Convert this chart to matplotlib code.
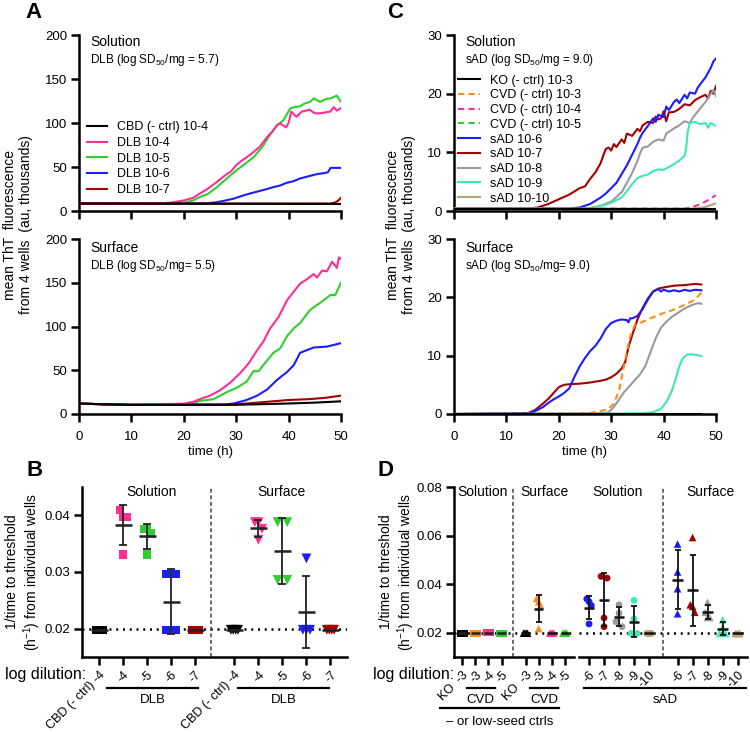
import numpy as np
import matplotlib
matplotlib.use('Agg')
import matplotlib.pyplot as plt
from matplotlib.lines import Line2D

plt.rcParams['font.family'] = ['Liberation Sans', 'DejaVu Sans']
plt.rcParams['mathtext.fontset'] = 'custom'
plt.rcParams['mathtext.rm'] = 'Liberation Sans'
plt.rcParams['mathtext.default'] = 'regular'

# ======================= DATA =======================
# ---- Panel A, Solution (au, thousands) ----
a_sol_cbd_t = [0, 50]
a_sol_cbd = [8.5, 8.0]
a_sol_dlb4_t = [0, 16, 18, 20, 21.8, 23.1, 24.5, 26.3, 28.2, 29, 30, 31, 32, 33.3, 34.5, 35.9, 37, 37.8, 38.4,
                39.5, 40, 40.5, 41.5, 42.5, 44, 45, 46, 47, 48, 48.6, 49.2, 50]
a_sol_dlb4 = [8.5, 8.5, 10, 12, 15, 20, 25, 33, 42, 45, 52, 57, 61, 67, 73, 84, 91, 97.5, 99.5,
              95, 100, 113, 107, 113, 115, 111, 111, 112, 113, 118, 114, 117]
a_sol_dlb5_t = [0, 18, 20, 21.8, 23.1, 24.5, 26.3, 28.2, 30, 32, 33.3, 35, 36.5, 37.8, 39, 40.3, 41, 42.2,
                43, 44.1, 44.8, 46, 47, 48, 49.2, 50]
a_sol_dlb5 = [8.5, 8.5, 9.5, 12, 16, 19, 27, 37, 46, 55, 61, 73, 87, 97.5, 103, 116.5, 118, 119,
              122, 124, 128, 124, 127, 128, 131, 124]
a_sol_dlb6_t = [0, 24, 26.3, 28, 29.5, 31, 32.7, 34, 35.9, 37, 38.4, 39.6, 41, 42.2, 43.5, 44.8, 45.5,
                46.7, 47.5, 48, 50]
a_sol_dlb6 = [8.5, 8.5, 10, 12, 14, 17, 20, 22, 25, 27, 29, 32, 34, 37, 39, 41, 42, 43, 44, 49, 49]
a_sol_dlb7_t = [0, 48, 49, 49.5, 50]
a_sol_dlb7 = [8.5, 8.5, 10, 12, 15]

# ---- Panel A, Surface ----
a_surf_cbd_t = [0, 5, 10, 30, 40, 45, 50]
a_surf_cbd = [12, 11, 10.5, 10.5, 12, 13, 14.5]
a_surf_dlb4_t = [0, 5, 10, 20, 21.8, 23.1, 25, 26.9, 28.9, 30.8, 32.4, 34, 35.2, 36.5, 38.1, 39.7, 41, 42.2,
                 43.5, 44.8, 45.4, 46.4, 47.3, 48.3, 49.2, 49.6, 50]
a_surf_dlb4 = [12, 11, 10.5, 11.8, 14, 17, 21, 27, 36, 47, 58, 73, 83, 98, 111, 130, 140, 149,
               154, 160, 156, 164, 163, 174, 167, 179, 177]
a_surf_dlb5_t = [0, 5, 10, 20, 21.8, 23.1, 25.7, 28.2, 30.1, 32, 33.3, 34.3, 35.2, 37.1, 38.4, 39.7, 41,
                 42.2, 44.1, 46, 48, 48.9, 50]
a_surf_dlb5 = [12, 11, 10.5, 10.8, 12, 15, 17, 25, 30, 37, 49, 49, 56, 70, 75, 89, 98,
               104, 119, 127, 136, 136, 150]
a_surf_dlb6_t = [0, 5, 10, 28, 29.5, 32, 34, 35.9, 37.8, 39.7, 41, 42.2, 43.5, 44.8, 47.3, 50]
a_surf_dlb6 = [12, 11, 10.5, 11, 12, 16, 21, 28, 39, 48, 56, 70, 73, 76, 77, 81]
a_surf_dlb7_t = [0, 5, 10, 28, 32, 36, 40, 44, 47, 50]
a_surf_dlb7 = [12, 11, 10.5, 10.5, 12, 14, 16, 17, 18.5, 21]

# ---- Panel C, Solution ----
c_sol_ko_t = [0, 50]
c_sol_ko = [0.4, 0.4]
c_sol_cvd3_t = [0, 50]
c_sol_cvd3 = [0.4, 0.4]
c_sol_cvd4_t = [0, 44, 46, 48, 50]
c_sol_cvd4 = [0.4, 0.4, 0.8, 1.6, 2.7]
c_sol_cvd5_t = [0, 50]
c_sol_cvd5 = [0.4, 0.4]
c_sol_sad6_t = [0, 22, 24, 26, 28, 29, 30, 31, 32, 33, 34, 35, 35.5, 36, 37, 38, 38.5, 39, 40, 40.5, 41, 42,
                42.5, 43, 44, 44.5, 45, 46, 46.5, 47, 48, 48.5, 49, 49.5, 50]
c_sol_sad6 = [0.4, 0.4, 0.6, 1.2, 2.3, 3.0, 3.9, 4.8, 6.3, 7.8, 9.6, 11.4, 12.5, 13.3, 14.5, 15.8, 15.2, 16.4,
              16.0, 17.8, 17.2, 18.6, 19.0, 18.4, 19.8, 19.2, 20.2, 20.0, 21.0, 21.6, 22.8, 23.6, 24.4, 25.5, 26.0]
c_sol_sad7_t = [0, 14, 16, 18, 20, 22, 24, 25, 26, 27, 28, 28.5, 29, 29.5, 30, 30.5, 31, 32, 32.5, 33, 34,
                35, 35.5, 36, 37, 38, 38.5, 39, 39.5, 40, 40.5, 41, 42, 43, 44, 45, 46, 47, 48, 48.5, 49,
                49.5, 50]
c_sol_sad7 = [0.4, 0.4, 0.6, 1.2, 2.0, 2.8, 3.9, 4.2, 5.5, 6.6, 8.2, 9.5, 10.6, 10.8, 10.3, 11.4, 10.9, 12.2,
              11.6, 13.2, 12.8, 14.0, 13.6, 14.6, 15.2, 15.0, 16.1, 15.6, 15.8, 17.0, 15.3, 16.8, 16.9, 17.4,
              18.2, 18.0, 18.9, 19.4, 19.8, 19.2, 20.5, 20.0, 21.3]
c_sol_sad8_t = [0, 26, 28, 30, 31, 32, 33, 34, 35, 35.5, 36, 37, 38, 39, 40, 40.5, 41, 42, 43, 44, 45, 45.5,
                46, 47, 48, 49, 49.5, 50]
c_sol_sad8 = [0.4, 0.5, 0.9, 1.6, 2.4, 3.2, 4.8, 6.5, 8.5, 9.8, 10.8, 11.0, 11.8, 12.2, 12.0, 13.2, 13.5,
              14.1, 14.6, 15.3, 15.0, 15.8, 16.4, 17.5, 18.6, 20.0, 20.6, 19.6]
c_sol_sad9_t = [0, 26, 28, 30, 32, 33, 34, 35, 36, 37, 38, 39, 40, 41, 42, 43, 44, 44.3, 44.6, 45, 46, 47,
                48, 48.5, 49, 50]
c_sol_sad9 = [0.4, 0.5, 0.8, 1.4, 2.3, 3.4, 4.6, 5.6, 6.0, 6.2, 6.8, 7.1, 7.0, 7.5, 8.0, 8.6, 9.4, 10.8,
              13.5, 15.0, 15.2, 14.8, 15.0, 14.2, 15.0, 14.5]
c_sol_sad10_t = [0, 46, 48, 50]
c_sol_sad10 = [0.4, 0.4, 0.7, 1.3]

# ---- Panel C, Surface ----
c_surf_flat_t = [0, 47.2]
c_surf_flat = [0.05, 0.05]
c_surf_cvd3_t = [0, 23, 26, 28, 29.5, 30.5, 31.5, 32.5, 33.5, 34.5, 36, 38, 40, 42, 44, 46, 47.2]
c_surf_cvd3 = [0, 0.1, 0.2, 0.5, 0.9, 1.8, 4.0, 8.5, 13.0, 15.3, 15.8, 16.6, 17.3, 17.9, 18.7, 19.6, 20.8]
c_surf_sad6_t = [0, 14, 15.5, 17, 18, 19, 20, 21, 22, 23, 24, 25, 26, 27, 28, 29, 30, 31, 32, 33, 33.3, 33.6,
                 34, 35, 36, 37, 38, 39, 39.5, 40, 41, 42, 43, 44, 45, 46, 47.2]
c_surf_sad6 = [0, 0.1, 0.5, 1.2, 1.9, 2.5, 3.0, 3.6, 4.4, 6.4, 8.2, 9.6, 10.8, 11.7, 13.0, 14.6, 15.6, 16.0,
               16.2, 16.1, 15.7, 16.4, 16.4, 16.8, 18.0, 19.6, 21.0, 21.4, 21.0, 21.3, 21.0, 21.2, 21.0, 21.3,
               21.1, 21.3, 21.2]
c_surf_sad7_t = [0, 14, 15.5, 17, 18, 19, 20, 21, 22, 24, 26, 28, 29, 30, 31, 32, 32.7, 33.3, 34, 35, 36, 37,
                 38, 39, 40, 42, 44, 46, 47.2]
c_surf_sad7 = [0, 0.1, 0.7, 1.8, 2.6, 3.6, 4.6, 5.0, 5.1, 5.2, 5.4, 5.7, 5.9, 6.3, 6.9, 7.8, 9.0, 11.5, 13.5,
               16.2, 18.2, 19.8, 21.0, 21.5, 21.7, 22.0, 22.1, 22.3, 22.2]
c_surf_sad8_t = [0, 28, 29.5, 30.5, 31.5, 32.5, 33.5, 34.5, 35.5, 36.5, 37.5, 38.5, 39.5, 40.5, 41.5, 42.5,
                 43.5, 44.5, 45.5, 46.5, 47.2]
c_surf_sad8 = [0, 0.1, 0.3, 1.2, 2.5, 3.8, 4.8, 5.8, 6.8, 8.2, 10.6, 13.0, 14.8, 15.8, 16.6, 17.2, 17.8, 18.3,
               18.7, 19.0, 18.9]
c_surf_sad9_t = [0, 36, 38, 39.5, 40.5, 41.5, 42.3, 43, 43.7, 44.5, 45.5, 46.5, 47.2]
c_surf_sad9 = [0, 0.1, 0.3, 0.9, 2.0, 3.8, 6.0, 8.2, 9.6, 10.2, 10.2, 10.1, 9.9]

# ---- Panel B: 1/time to threshold (h^-1), 4 wells each ----
b_labels = ['CBD (- ctrl) -4', '-4', '-5', '-6', '-7']
b_sol = [[0.0198] * 4,
         [0.0409, 0.0397, 0.0397, 0.0331],
         [0.0376, 0.0376, 0.0368, 0.0331],
         [0.0297, 0.0297, 0.0198, 0.0198],
         [0.0198] * 4]
b_surf = [[0.0198] * 4,
          [0.0388, 0.0388, 0.0376, 0.0357],
          [0.0388, 0.0388, 0.0286, 0.0286],
          [0.0324, 0.0198, 0.0198, 0.0198],
          [0.0198] * 4]

# ---- Panel D ----
d_ctrl_labels = ['KO  -3', '-3', '-4', '-5']
d_ctrl_sol = [[0.0198] * 4, [0.0198] * 4, [0.0200] * 4, [0.0198] * 4]
d_ctrl_surf = [[0.0198] * 4, [0.0341, 0.0327, 0.0313, 0.0217], [0.0198] * 4, [0.0198] * 4]
d_sad_labels = ['-6', '-7', '-8', '-9', '-10']
d_sad_sol = [[0.0339, 0.0328, 0.0312, 0.0236],
             [0.0432, 0.0425, 0.0261, 0.0225],
             [0.0315, 0.0280, 0.0245, 0.0225],
             [0.0333, 0.0257, 0.0197, 0.0197],
             [0.0197] * 4]
d_sad_surf = [[0.0565, 0.0450, 0.0381, 0.0278],
              [0.0592, 0.0315, 0.0308, 0.0284],
              [0.0325, 0.0284, 0.0263, 0.0263],
              [0.0253, 0.0222, 0.0197, 0.0197],
              [0.0197] * 4]

# ======================= STYLE =======================
PINK = '#ff2e93'; GREEN = '#2fcf2f'; BLUE = '#1c1cff'; DRED = '#a50000'
GRAY = '#9a9a9a'; AQUA = '#3ee8b4'; TAN = '#b5a57c'; ORANGE = '#ff8c1a'; BLACK = '#000000'
LW = 1.5
W, H = 750, 732
fig = plt.figure(figsize=(W / 100, H / 100), dpi=100)


def rect(l, t, r, b):
    return [l / W, 1 - b / H, (r - l) / W, (b - t) / H]


def fx(x):
    return x / W


def fy(y):
    return 1 - y / H


def style_axes(ax):
    for s in ['top', 'right']:
        ax.spines[s].set_visible(False)
    for s in ['left', 'bottom']:
        ax.spines[s].set_linewidth(1.8)
    ax.tick_params(direction='out', length=6, width=1.8, labelsize=9.5, pad=2.5)


def style_ts(ax, ymax, ystep, xlabels):
    ax.set_xlim(0, 50)
    ax.set_ylim(0, ymax)
    ax.set_xticks(range(0, 51, 10))
    ax.set_yticks(np.arange(0, ymax + 1, ystep))
    style_axes(ax)
    ax.tick_params(axis='x', pad=6)
    if not xlabels:
        ax.set_xticklabels([])
    else:
        ax.set_xlabel('time (h)', fontsize=9.5, labelpad=2.5)


axA1 = fig.add_axes(rect(79, 35, 341, 211))
axA2 = fig.add_axes(rect(79, 239, 341, 414))
axC1 = fig.add_axes(rect(454, 35, 716, 211))
axC2 = fig.add_axes(rect(454, 239, 716, 414))

# ---- A solution ----
style_ts(axA1, 200, 50, False)
hA = []
hA.append(axA1.plot(a_sol_cbd_t, a_sol_cbd, color=BLACK, lw=LW, label='CBD (- ctrl) 10-4', zorder=6)[0])
hA.append(axA1.plot(a_sol_dlb4_t, a_sol_dlb4, color=PINK, lw=LW, label='DLB 10-4', zorder=4)[0])
hA.append(axA1.plot(a_sol_dlb5_t, a_sol_dlb5, color=GREEN, lw=LW, label='DLB 10-5', zorder=3)[0])
hA.append(axA1.plot(a_sol_dlb6_t, a_sol_dlb6, color=BLUE, lw=LW, label='DLB 10-6', zorder=3)[0])
hA.append(axA1.plot(a_sol_dlb7_t, a_sol_dlb7, color=DRED, lw=LW, label='DLB 10-7', zorder=5)[0])
axA1.legend(handles=hA, loc='upper left', bbox_to_anchor=(0.031, 0.51), frameon=False, fontsize=9,
            handlelength=1.6, handletextpad=0.8, labelspacing=0.3, borderpad=0, borderaxespad=0)
axA1.text(0.042, 0.963, 'Solution', transform=axA1.transAxes, fontsize=10, va='center')
axA1.text(0.042, 0.858, r'DLB (log SD$_{50}$/mg = 5.7)', transform=axA1.transAxes, fontsize=8.5, va='center')

# ---- A surface ----
style_ts(axA2, 200, 50, True)
axA2.plot(a_surf_dlb4_t, a_surf_dlb4, color=PINK, lw=LW, zorder=4)
axA2.plot(a_surf_dlb5_t, a_surf_dlb5, color=GREEN, lw=LW, zorder=3)
axA2.plot(a_surf_dlb6_t, a_surf_dlb6, color=BLUE, lw=LW, zorder=3)
axA2.plot(a_surf_dlb7_t, a_surf_dlb7, color=DRED, lw=LW, zorder=5)
axA2.plot(a_surf_cbd_t, a_surf_cbd, color=BLACK, lw=LW, zorder=6)
axA2.text(0.042, 0.947, 'Surface', transform=axA2.transAxes, fontsize=10, va='center')
axA2.text(0.042, 0.846, r'DLB (log SD$_{50}$/mg= 5.5)', transform=axA2.transAxes, fontsize=8.5, va='center')

# ---- C solution ----
style_ts(axC1, 30, 10, False)
hC = []
hC.append(axC1.plot(c_sol_ko_t, c_sol_ko, color=BLACK, lw=LW, label='KO (- ctrl) 10-3', zorder=6)[0])
hC.append(axC1.plot(c_sol_cvd3_t, c_sol_cvd3, color=ORANGE, lw=LW, ls=(0, (3, 2)), label='CVD (- ctrl) 10-3', zorder=5)[0])
hC.append(axC1.plot(c_sol_cvd4_t, c_sol_cvd4, color=PINK, lw=LW, ls=(0, (3, 2)), label='CVD (- ctrl) 10-4', zorder=5)[0])
hC.append(axC1.plot(c_sol_cvd5_t, c_sol_cvd5, color=GREEN, lw=LW, ls=(0, (3, 2)), label='CVD (- ctrl) 10-5', zorder=5)[0])
hC.append(axC1.plot(c_sol_sad6_t, c_sol_sad6, color=BLUE, lw=LW, label='sAD 10-6', zorder=4)[0])
hC.append(axC1.plot(c_sol_sad7_t, c_sol_sad7, color=DRED, lw=LW, label='sAD 10-7', zorder=3)[0])
hC.append(axC1.plot(c_sol_sad8_t, c_sol_sad8, color=GRAY, lw=LW, label='sAD 10-8', zorder=3)[0])
hC.append(axC1.plot(c_sol_sad9_t, c_sol_sad9, color=AQUA, lw=LW, label='sAD 10-9', zorder=3)[0])
hC.append(axC1.plot(c_sol_sad10_t, c_sol_sad10, color=TAN, lw=LW, label='sAD 10-10', zorder=5)[0])
axC1.legend(handles=hC, loc='upper left', bbox_to_anchor=(0.015, 0.775), frameon=False, fontsize=9,
            handlelength=1.8, handletextpad=0.8, labelspacing=0.22, borderpad=0, borderaxespad=0)
axC1.text(0.042, 0.963, 'Solution', transform=axC1.transAxes, fontsize=10, va='center')
axC1.text(0.042, 0.858, r'sAD (log SD$_{50}$/mg = 9.0)', transform=axC1.transAxes, fontsize=8.5, va='center')

# ---- C surface ----
style_ts(axC2, 30, 10, True)
axC2.plot(c_surf_flat_t, c_surf_flat, color=BLACK, lw=LW, zorder=6)
axC2.plot(c_surf_sad6_t, c_surf_sad6, color=BLUE, lw=LW, zorder=4)
axC2.plot(c_surf_sad7_t, c_surf_sad7, color=DRED, lw=LW, zorder=3)
axC2.plot(c_surf_sad8_t, c_surf_sad8, color=GRAY, lw=LW, zorder=3)
axC2.plot(c_surf_sad9_t, c_surf_sad9, color=AQUA, lw=LW, zorder=3)
axC2.plot(c_surf_cvd3_t, c_surf_cvd3, color=ORANGE, lw=LW, ls=(0, (3, 2)), zorder=5)
axC2.text(0.042, 0.947, 'Surface', transform=axC2.transAxes, fontsize=10, va='center')
axC2.text(0.042, 0.846, r'sAD (log SD$_{50}$/mg= 9.0)', transform=axC2.transAxes, fontsize=8.5, va='center')

# ======================= dot plots =======================
SPAN = {1: 0.0, 2: 0.4, 3: 0.3, 4: 0.3}


def spread(vals, tol):
    vals = np.asarray(vals, float)
    offs = np.zeros(len(vals))
    order = np.argsort(-vals, kind='stable')
    clusters = []
    for i in order:
        if clusters and abs(vals[clusters[-1][-1]] - vals[i]) < tol:
            clusters[-1].append(i)
        else:
            clusters.append([i])
    for c in clusters:
        n = len(c)
        if n > 1:
            step = SPAN[n] / (n - 1)
            for k, i in enumerate(c):
                offs[i] = (k - (n - 1) / 2) * step
    return offs


def dot_plot(ax, positions, groups, colors, marker, size, tol, mean_hw, cap, ec='#222222'):
    for x0, vals, c in zip(positions, groups, colors):
        vals = np.asarray(vals, float)
        offs = spread(vals, tol)
        ax.scatter(x0 + offs, vals, marker=marker, s=size, color=c, edgecolor='none', zorder=3, clip_on=False)
        m, sd = vals.mean(), vals.std(ddof=1)
        ax.plot([x0 - mean_hw, x0 + mean_hw], [m, m], color=ec, lw=1.8, zorder=4, solid_capstyle='butt')
        if sd > 1e-6:
            ax.errorbar([x0], [m], yerr=[sd], fmt='none', ecolor=ec, elinewidth=1.3, capsize=cap,
                        capthick=1.3, zorder=4)


DOT = (0, (0.8, 1.9))
DASH = (0, (2.6, 1.7))

# ---- B ----
axB = fig.add_axes(rect(82, 487, 347, 657))
style_axes(axB)
b_pos_sol = np.arange(5)
b_pos_surf = np.arange(5) + 5.63
b_colors = [BLACK, PINK, GREEN, BLUE, DRED]
axB.axhline(0.02, color='k', ls=DOT, lw=1.8, zorder=1)
axB.axvline(4.65, color='#444444', ls=DASH, lw=1.1, zorder=1)
dot_plot(axB, b_pos_sol, b_sol, b_colors, 's', 36, 0.0016, 0.35, 2.6)
dot_plot(axB, b_pos_surf, b_surf, b_colors, 'v', 50, 0.0016, 0.35, 2.6)
axB.set_xlim(-0.72, 10.32)
axB.set_ylim(0.015, 0.045)
axB.set_yticks([0.02, 0.03, 0.04])
axB.set_yticklabels(['0.02', '0.03', '0.04'])
axB.set_xticks(np.concatenate([b_pos_sol, b_pos_surf]))
axB.set_xticklabels(b_labels + b_labels, rotation=45, ha='right', va='top', rotation_mode='anchor', fontsize=9)
axB.text(2.18, 0.972, 'Solution', transform=axB.get_xaxis_transform(), ha='center', va='center', fontsize=10)
axB.text(7.6, 0.972, 'Surface', transform=axB.get_xaxis_transform(), ha='center', va='center', fontsize=10)

# ---- D ----
axD1 = fig.add_axes(rect(454, 487, 574, 657))
axD2 = fig.add_axes(rect(579, 487, 747, 657))
style_axes(axD1)
style_axes(axD2)
axD2.spines['left'].set_visible(False)
axD2.tick_params(axis='y', left=False, labelleft=False)
d_pos_ctrl_sol = np.arange(4)
d_pos_ctrl_surf = np.arange(4) + 4.83
d_pos_sad_sol = np.arange(5)
d_pos_sad_surf = np.arange(5) + 5.9
ctrl_colors = [BLACK, ORANGE, PINK, GREEN]
sad_colors = [BLUE, DRED, GRAY, AQUA, TAN]
for ax in (axD1, axD2):
    ax.axhline(0.02, color='k', ls=DOT, lw=1.8, zorder=1)
    ax.set_ylim(0.01, 0.08)
axD1.axvline(3.87, color='#444444', ls=DASH, lw=1.1, zorder=1)
axD2.axvline(4.93, color='#444444', ls=DASH, lw=1.1, zorder=1)
dot_plot(axD1, d_pos_ctrl_sol, d_ctrl_sol, ctrl_colors, 's', 26, 0.0025, 0.33, 2.0)
dot_plot(axD1, d_pos_ctrl_surf, d_ctrl_surf, ctrl_colors, '^', 30, 0.0025, 0.33, 2.0, ec='#111111')
dot_plot(axD2, d_pos_sad_sol, d_sad_sol, sad_colors, 'o', 24, 0.0025, 0.36, 2.2, ec='#111111')
dot_plot(axD2, d_pos_sad_surf, d_sad_surf, sad_colors, '^', 30, 0.0025, 0.36, 2.2, ec='#111111')
axD1.set_xlim(-0.63, 8.53)
axD2.set_xlim(-0.67, 10.53)
axD1.set_yticks([0.02, 0.04, 0.06, 0.08])
axD1.set_yticklabels(['0.02', '0.04', '0.06', '0.08'])
axD1.set_xticks(np.concatenate([d_pos_ctrl_sol, d_pos_ctrl_surf]))
axD1.set_xticklabels(d_ctrl_labels + d_ctrl_labels, rotation=45, ha='right', va='top',
                     rotation_mode='anchor', fontsize=9)
axD2.set_xticks(np.concatenate([d_pos_sad_sol, d_pos_sad_surf]))
axD2.set_xticklabels(d_sad_labels + d_sad_labels, rotation=45, ha='right', va='top',
                     rotation_mode='anchor', fontsize=9)
axD1.text(1.58, 0.972, 'Solution', transform=axD1.get_xaxis_transform(), ha='center', va='center', fontsize=10)
axD1.text(6.24, 0.972, 'Surface', transform=axD1.get_xaxis_transform(), ha='center', va='center', fontsize=10)
axD2.text(1.93, 0.972, 'Solution', transform=axD2.get_xaxis_transform(), ha='center', va='center', fontsize=10)
axD2.text(8.07, 0.972, 'Surface', transform=axD2.get_xaxis_transform(), ha='center', va='center', fontsize=10)

# ======================= annotations =======================
def hline_px(x0, x1, y):
    fig.add_artist(Line2D([fx(x0), fx(x1)], [fy(y), fy(y)], transform=fig.transFigure, color='k', lw=1.6))


def text_px(x, y, s, **kw):
    fig.text(fx(x), fy(y), s, **kw)


hline_px(107.3, 198.3, 688)
text_px(152.8, 700, 'DLB', ha='center', va='center', fontsize=9.5)
hline_px(238.3, 329, 688)
text_px(283.6, 700, 'DLB', ha='center', va='center', fontsize=9.5)
text_px(5, 675, 'log dilution:', ha='left', va='center', fontsize=11.5)
text_px(373, 675, 'log dilution:', ha='left', va='center', fontsize=11.5)

hline_px(466.7, 495, 688)
text_px(480.8, 700, 'CVD', ha='center', va='center', fontsize=9.5)
hline_px(530, 558.3, 688)
text_px(544.2, 700, 'CVD', ha='center', va='center', fontsize=9.5)
hline_px(440, 559.3, 708)
text_px(500, 722, '\u2013 or low-seed ctrls', ha='center', va='center', fontsize=9.5)
hline_px(584.3, 746, 688)
text_px(665, 700, 'sAD', ha='center', va='center', fontsize=9.5)

ylab_ts = 'mean ThT  fluorescence\nfrom 4 wells  (au, thousands)'
text_px(18, 225, ylab_ts, rotation=90, ha='center', va='center', fontsize=10, multialignment='center',
        linespacing=1.15)
text_px(401, 225, ylab_ts, rotation=90, ha='center', va='center', fontsize=10, multialignment='center',
        linespacing=1.15)
ylab_dp = '1/time to threshold\n(h$^{-1}$) from individual wells'
text_px(24, 572, ylab_dp, rotation=90, ha='center', va='center', fontsize=10, multialignment='center',
        linespacing=1.15)
text_px(398, 572, ylab_dp, rotation=90, ha='center', va='center', fontsize=10, multialignment='center',
        linespacing=1.15)

for lab, x, y in [('A', 25, 13), ('B', 27, 471), ('C', 387, 13), ('D', 377, 471)]:
    text_px(x, y, lab, ha='left', va='center', fontsize=16, fontweight='bold')

fig.savefig('out.png', dpi=100)
